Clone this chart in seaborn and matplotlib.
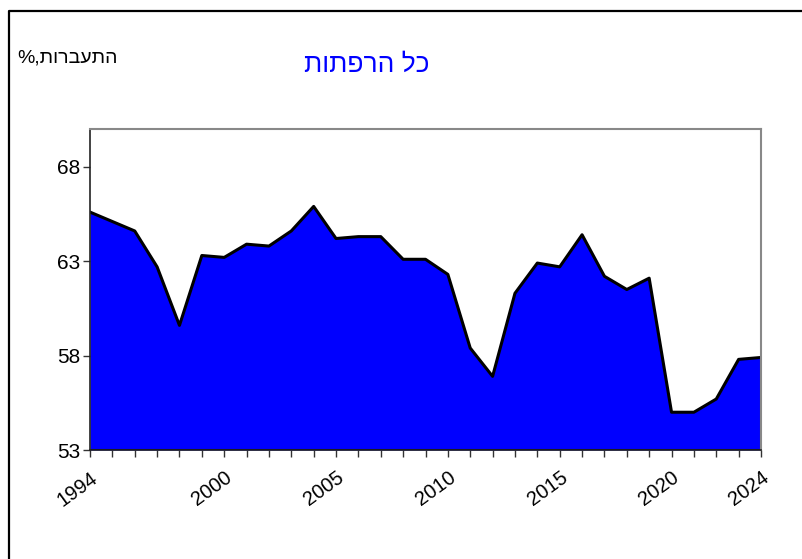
import matplotlib
matplotlib.use('Agg')

import matplotlib.pyplot as plt
import numpy as np
import pandas as pd
import seaborn as sns
from matplotlib.lines import Line2D

years = list(range(1994, 2025))
conception_rate = [65.6, 65.1, 64.6, 62.7, 59.6, 63.3, 63.2, 63.9, 63.8, 64.6,
                   65.9, 64.2, 64.3, 64.3, 63.1, 63.1, 62.3, 58.4, 56.9, 61.3,
                   62.9, 62.7, 64.4, 62.2, 61.5, 62.1, 55.0, 55.0, 55.7, 57.8,
                   57.9]
labeled_years = [1994, 2000, 2005, 2010, 2015, 2020, 2024]
y_ticks = [53, 58, 63, 68]

title_text = 'כל הרפתות'
ylabel_text = 'התעברות'

sns.set_style('white')
plt.rcParams['font.family'] = ['Liberation Sans', 'DejaVu Sans']

df = pd.DataFrame({'Year': years, 'Rate': conception_rate})

fig = plt.figure(figsize=(8.03, 5.59), dpi=100)
ax = fig.add_axes([90 / 803, 1 - 450 / 559, 671 / 803, 321 / 559])

ax.fill_between(df['Year'], df['Rate'], 53, color='#0000FF', linewidth=0)
sns.lineplot(data=df, x='Year', y='Rate', color='black', linewidth=2.2, ax=ax)
ax.plot([years[-1], years[-1]], [53, conception_rate[-1]], color='black', lw=2.2)
ax.plot([years[0], years[-1]], [53, 53], color='black', lw=2.2)

ax.set_xlim(1994, 2024)
ax.set_ylim(53, 70)
ax.set_yticks(y_ticks)
ax.set_xticks(years)
ax.set_xticklabels([str(y) if y in labeled_years else '' for y in years],
                   rotation=36, ha='right', rotation_mode='anchor')
ax.tick_params(axis='both', direction='out', length=5, width=1, color='#333333',
               labelcolor='black', labelsize=15, pad=2, bottom=True, left=True)
ax.tick_params(axis='x', labelsize=14.5, pad=8)
ax.set_xlabel('')
ax.set_ylabel('')

for side in ['top', 'right']:
    ax.spines[side].set_color('#888888')
    ax.spines[side].set_linewidth(1.5)
for side in ['left', 'bottom']:
    ax.spines[side].set_color('#222222')
    ax.spines[side].set_linewidth(1.2)

# Hebrew is drawn in visual (reversed) order since matplotlib has no bidi
fig.text(367 / 803, 1 - 71.5 / 559, title_text[::-1], color='#0000FF',
         fontsize=19, ha='center', va='baseline')
fig.text(17 / 803, 1 - 62 / 559, '%,' + ylabel_text[::-1], color='black',
         fontsize=14, ha='left', va='baseline')

# partial outer frame (top and left edges)
fig.add_artist(Line2D([8.5 / 803, 8.5 / 803, 1], [0, 1 - 11 / 559, 1 - 11 / 559],
                      transform=fig.transFigure, color='black', lw=1.6))

fig.savefig('out.png', dpi=100)
plt.close()
